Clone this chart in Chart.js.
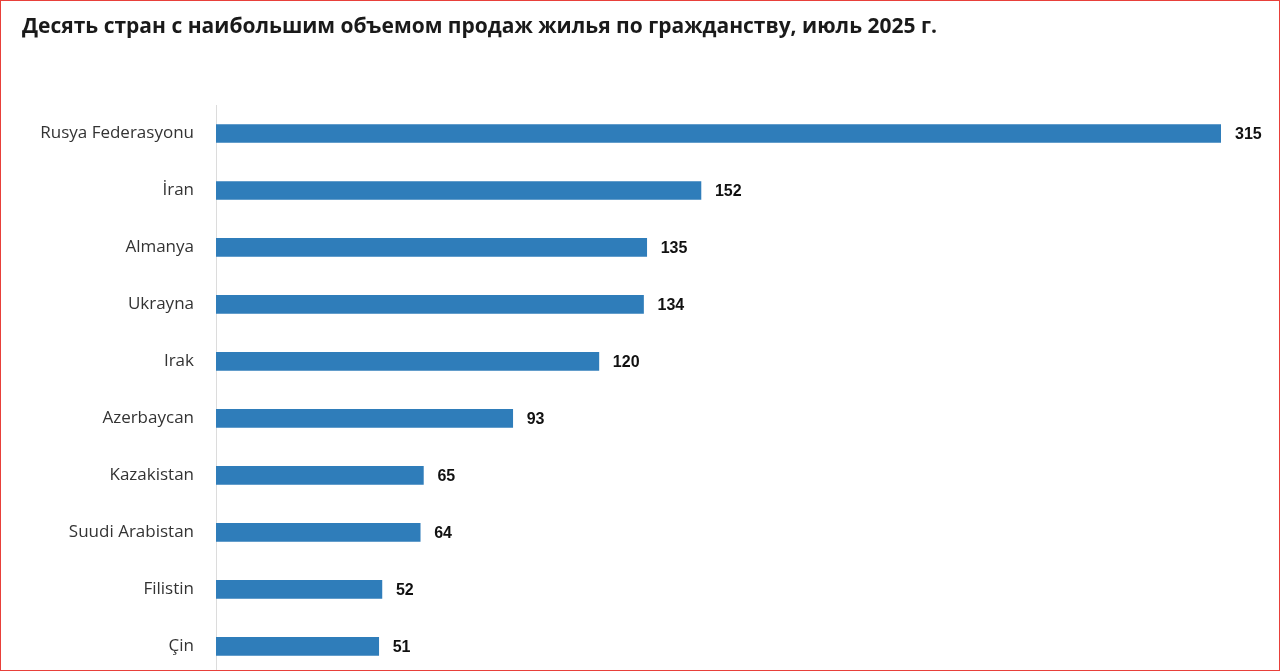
<!DOCTYPE html>
<html>
<head>
<meta charset="utf-8">
<script src="https://cdn.jsdelivr.net/npm/chart.js@4/dist/chart.umd.min.js"></script>
<style>
  body { margin: 0; background: #fff; }
  #wrap { position: relative; width: 1280px; height: 671px; box-sizing: border-box; border: 1px solid #e8403a; overflow: hidden; }
  #title { position: absolute; left: 21px; top: 10px; font: bold 21px "Open Sans", "Noto Sans", sans-serif; color: #1a1a1a; z-index: 1; }
  canvas { position: absolute; left: 0; top: 0; }
</style>
</head>
<body>
<div id="wrap">
  <div id="title">Десять стран с наибольшим объемом продаж жилья по гражданству, июль 2025 г.</div>
  <canvas id="chart" width="1280" height="698"></canvas>
</div>
<script>
const countries = ['Rusya Federasyonu', 'İran', 'Almanya', 'Ukrayna', 'Irak', 'Azerbaycan', 'Kazakistan', 'Suudi Arabistan', 'Filistin', 'Çin'];
const sales = [315, 152, 135, 134, 120, 93, 65, 64, 52, 51];

// value labels at bar ends
const valueLabels = {
    id: 'valueLabels',
    afterDatasetsDraw(chart) {
        const ctx = chart.ctx;
        const meta = chart.getDatasetMeta(0);
        ctx.save();
        ctx.font = 'bold 16px "Liberation Sans", Arial, sans-serif';
        ctx.fillStyle = '#111';
        ctx.textBaseline = 'middle';
        meta.data.forEach((bar, i) => {
            ctx.fillText(sales[i], bar.x + 14, bar.y + 1);
        });
        ctx.restore();
    }
};

new Chart(document.getElementById('chart'), {
    type: 'bar',
    data: {
        labels: countries,
        datasets: [{
            data: sales,
            backgroundColor: '#2f7dba',
            barThickness: 18,
        }]
    },
    options: {
        indexAxis: 'y',
        responsive: false,
        animation: false,
        layout: { padding: { top: 104, right: 60, left: 0, bottom: 0 } },
        plugins: { legend: { display: false }, tooltip: { enabled: false } },
        scales: {
            x: { display: false, min: 0, max: 315 },
            y: {
                afterFit: s => { s.width = 215; },
                grid: { display: false },
                border: { color: '#dcdcdc', width: 1 },
                ticks: { color: '#333', padding: 14, font: { family: '"Open Sans", "Noto Sans", sans-serif', size: 17, weight: '500' } }
            }
        }
    },
    plugins: [valueLabels]
});
</script>
</body>
</html>
